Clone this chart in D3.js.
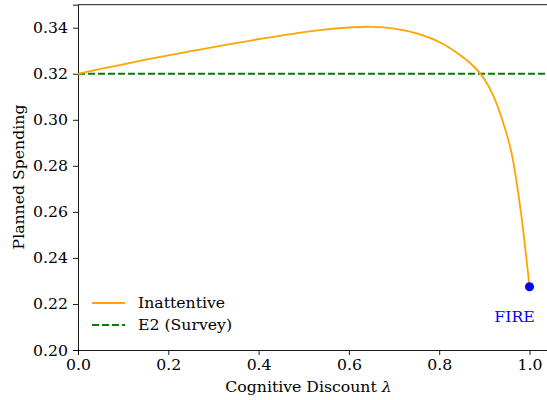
<!DOCTYPE html>
<html>
<head>
<meta charset="utf-8">
<script src="https://cdn.jsdelivr.net/npm/d3@7"></script>
<style>
body { margin: 0; background: #fff; }
text { font-family: "DejaVu Serif", serif; }
</style>
</head>
<body>
<div id="chart"></div>
<script>
// data
var lambdaVals = [0, 0.05, 0.10, 0.15, 0.20, 0.25, 0.30, 0.35, 0.40, 0.45, 0.50, 0.55, 0.60, 0.65, 0.70, 0.75, 0.80, 0.84, 0.88, 0.90, 0.92, 0.94, 0.96, 0.98, 1.00];
var inattentive = [0.3200, 0.3221, 0.3241, 0.3261, 0.3280, 0.3298, 0.3316, 0.3333, 0.3350, 0.3366, 0.3381, 0.3393, 0.3401, 0.3404, 0.3396, 0.3375, 0.3338, 0.3290, 0.3225, 0.3176, 0.3104, 0.2998, 0.2858, 0.2612, 0.2275];
var surveyE2 = 0.32;
var fireX = 1.0, fireY = 0.2275;
var xTicks = [0.0, 0.2, 0.4, 0.6, 0.8, 1.0];
var yTicks = [0.20, 0.22, 0.24, 0.26, 0.28, 0.30, 0.32, 0.34];

var W = 547, H = 400;
var margin = {top: 4.7, left: 78, bottom: 50, right: 0};
var fs = "15.7px";

var svg = d3.select("#chart").append("svg")
  .attr("width", W).attr("height", H);

var x = d3.scaleLinear().domain([0, 1.05]).range([margin.left, margin.left + 1.05 * 451.5]);
var y = d3.scaleLinear().domain([0.20, 0.35]).range([350, margin.top]);

// axes
var xAxis = svg.append("g")
  .attr("transform", "translate(0,350)")
  .call(d3.axisBottom(x).tickValues(xTicks).tickFormat(d3.format(".1f")).tickSize(5).tickPadding(4));
var yAxis = svg.append("g")
  .attr("transform", "translate(" + margin.left + ",0)")
  .call(d3.axisLeft(y).tickValues(yTicks).tickFormat(d3.format(".2f")).tickSize(5).tickPadding(5));

[xAxis, yAxis].forEach(function(a){
  a.selectAll("text").style("font-size", fs).attr("fill", "#000");
  a.selectAll("line").attr("stroke", "#000").attr("stroke-width", 0.9);
  a.select(".domain").attr("stroke", "#000").attr("stroke-width", 0.9);
});

// top spine
svg.append("line")
  .attr("x1", margin.left).attr("x2", W)
  .attr("y1", margin.top).attr("y2", margin.top)
  .attr("stroke", "#000").attr("stroke-width", 0.9);

// E2 survey line
svg.append("line")
  .attr("x1", x(0)).attr("x2", W)
  .attr("y1", y(surveyE2)).attr("y2", y(surveyE2))
  .attr("stroke", "green").attr("stroke-width", 1.8)
  .attr("stroke-dasharray", "7,3");

// inattentive curve
var pts = lambdaVals.map(function(d, i){ return [d, inattentive[i]]; });
svg.append("path")
  .datum(pts)
  .attr("fill", "none")
  .attr("stroke", "orange")
  .attr("stroke-width", 1.8)
  .attr("d", d3.line().x(function(d){return x(d[0]);}).y(function(d){return y(d[1]);}).curve(d3.curveCatmullRom.alpha(0.5)));

// FIRE point
svg.append("circle")
  .attr("cx", x(fireX)).attr("cy", y(fireY)).attr("r", 4.5)
  .attr("fill", "blue");
svg.append("text")
  .attr("x", x(fireX) - 15).attr("y", y(fireY) + 35)
  .attr("text-anchor", "middle")
  .attr("fill", "blue")
  .style("font-size", fs)
  .text("FIRE");

// axis labels
var xl = svg.append("text")
  .attr("x", (x(0) + W) / 2 - 4).attr("y", 392)
  .attr("text-anchor", "middle")
  .style("font-size", fs);
xl.append("tspan").text("Cognitive Discount ");
xl.append("tspan").style("font-style", "italic").text("\u03BB");
svg.append("text")
  .attr("transform", "translate(24,177) rotate(-90)")
  .attr("text-anchor", "middle")
  .style("font-size", fs)
  .text("Planned Spending");

// legend
var legend = [
  {label: "Inattentive", color: "orange", dash: null},
  {label: "E2 (Survey)", color: "green", dash: "7,3"}
];
legend.forEach(function(l, i){
  var ly = 303 + i * 22;
  svg.append("line")
    .attr("x1", 92).attr("x2", 125)
    .attr("y1", ly).attr("y2", ly)
    .attr("stroke", l.color).attr("stroke-width", 1.8)
    .attr("stroke-dasharray", l.dash);
  svg.append("text")
    .attr("x", 138).attr("y", ly + 5)
    .style("font-size", fs)
    .text(l.label);
});
</script>
</body>
</html>
